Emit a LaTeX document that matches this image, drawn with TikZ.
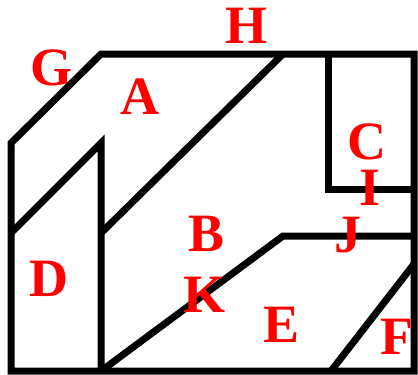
\documentclass[tikz,border=0pt]{standalone}
\usepackage{fontspec}
\setmainfont{Liberation Serif}
\begin{document}
\begin{tikzpicture}[x=1pt,y=-1pt,line width=7pt,
  lbl/.style={text=red,inner sep=0pt,font=\fontsize{54}{54}\selectfont\bfseries}]
\useasboundingbox (0,0) rectangle (418,375);
\draw (11,143)--(101,54)--(414,54)--(414,371)--(11,371)--cycle;
\draw (328,54)--(328,189)--(414,189);
\draw (101,233)--(283,54);
\draw (11,233)--(101,143)--(101,371);
\draw (101,371)--(283,236)--(414,236);
\draw (331,371)--(414,264);
\node[lbl] (G) at (52,68) {G};
\node[lbl] (H) at (246,26) {H};
\node[lbl] (A) at (140,97) {A};
\node[lbl] (C) at (367,142) {C};
\node[lbl] (I) at (370,188) {I};
\node[lbl] (B) at (207,234) {B};
\node[lbl] (J) at (348,235) {J};
\node[lbl] (D) at (49,279) {D};
\node[lbl] (K) at (205,295) {K};
\node[lbl] (E) at (282,325) {E};
\node[lbl] (F) at (397,337) {F};
\end{tikzpicture}
\end{document}
